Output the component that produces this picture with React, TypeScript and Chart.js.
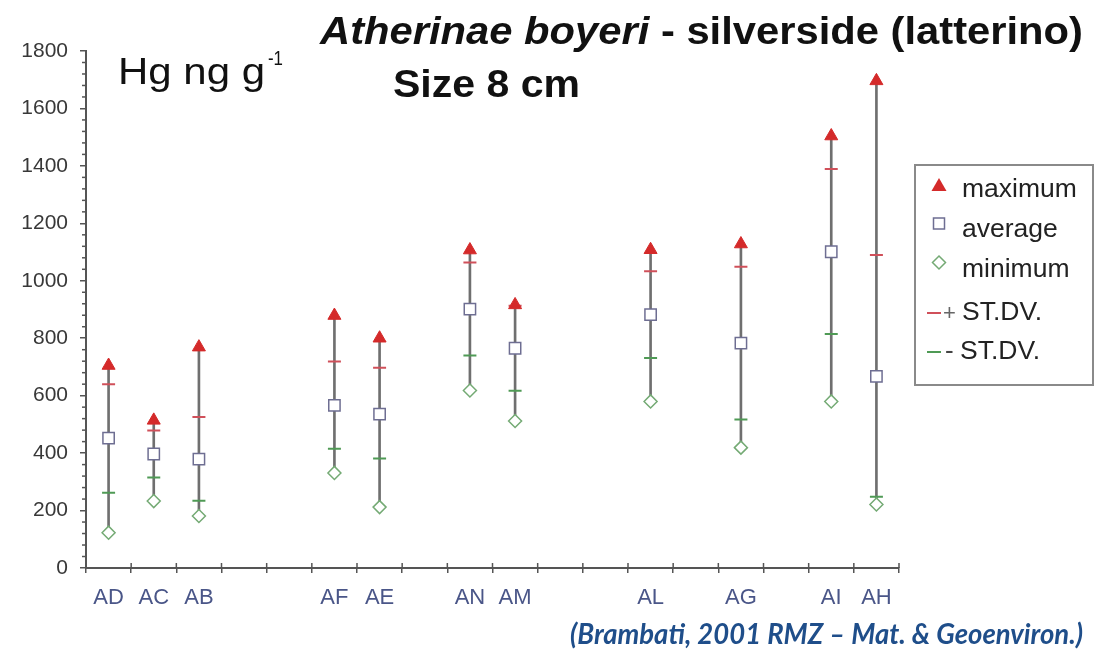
import React, { useEffect, useRef } from "react";
import { Chart, registerables } from "chart.js";

Chart.register(...registerables);

// ---- data ----
const categories = ["AD", "AC", "AB", "", "", "AF", "AE", "", "AN", "AM", "", "", "AL", "", "AG", "", "AI", "AH"];
const maximum = [705, 514, 769, null, null, 879, 800, null, 1107, 916, null, null, 1108, null, 1128, null, 1504, 1696];
const plusSD = [640, 479, 526, null, null, 719, 697, null, 1064, 913, null, null, 1033, null, 1049, null, 1389, 1090];
const average = [452, 397, 379, null, null, 566, 536, null, 901, 765, null, null, 882, null, 783, null, 1101, 667];
const minusSD = [262, 315, 234, null, null, 415, 381, null, 740, 617, null, null, 731, null, 517, null, 815, 248];
const minimum = [123, 233, 181, null, null, 331, 212, null, 618, 512, null, null, 580, null, 419, null, 580, 221];
const yTickValues = [0, 200, 400, 600, 800, 1000, 1200, 1400, 1600, 1800];
const yMinorStep = 40;

const titleItalic = "Atherinae boyeri";
const titleRest = " - silverside (latterino)";
const subtitle = "Size 8 cm";
const unitMain = "Hg ng g";
const unitSup = "-1";
const legendLabels = ["maximum", "average", "minimum", "ST.DV.", "ST.DV."];
const citation = "(Brambati, 2001 RMZ \u2013 Mat. & Geoenviron.)";

const FONT = '"Liberation Sans", Arial, Helvetica, sans-serif';
const RED = "#d42a2a";
const RED_DASH = "#d0505a";
const GREEN_DASH = "#4f9a55";
const GREEN_DIAMOND = "#74aa74";
const SQUARE_BORDER = "#6e6e92";
const RANGE = "#6f6f6f";
const AXIS = "#555555";

function fitText(
  ctx: CanvasRenderingContext2D,
  parts: { text: string; font: string }[],
  x: number,
  baseline: number,
  width: number,
  color: string
) {
  ctx.save();
  let total = 0;
  for (const p of parts) {
    ctx.font = p.font;
    total += ctx.measureText(p.text).width;
  }
  const s = width / total;
  ctx.translate(x, baseline);
  ctx.scale(s, 1);
  ctx.fillStyle = color;
  ctx.textBaseline = "alphabetic";
  ctx.textAlign = "left";
  let cx = 0;
  for (const p of parts) {
    ctx.font = p.font;
    ctx.fillText(p.text, cx, 0);
    cx += ctx.measureText(p.text).width;
  }
  ctx.restore();
}

function scaledText(ctx: CanvasRenderingContext2D, text: string, x: number, y: number, font: string, sx: number, color: string) {
  ctx.save();
  ctx.translate(x, y);
  ctx.scale(sx, 1);
  ctx.font = font;
  ctx.fillStyle = color;
  ctx.textBaseline = "middle";
  ctx.textAlign = "left";
  ctx.fillText(text, 0, 0);
  ctx.restore();
}

const decorPlugin = {
  id: "decor",
  afterDraw(chart: any) {
    const ctx: CanvasRenderingContext2D = chart.ctx;
    const xs = chart.scales.x;
    const ys = chart.scales.y;
    ctx.save();
    // y minor ticks
    ctx.strokeStyle = AXIS;
    ctx.lineWidth = 1.5;
    for (let v = 0; v <= 1800; v += yMinorStep) {
      if (v % 200 === 0) continue;
      const py = ys.getPixelForValue(v);
      ctx.beginPath();
      ctx.moveTo(ys.right - 4, py);
      ctx.lineTo(ys.right, py);
      ctx.stroke();
    }
    // x ticks above axis
    const n = categories.length;
    const step = (xs.right - xs.left) / n;
    for (let i = 0; i <= n; i++) {
      const px = xs.left + i * step;
      ctx.beginPath();
      ctx.moveTo(px, xs.top - 5);
      ctx.lineTo(px, xs.top);
      ctx.stroke();
    }
    ctx.restore();

    // titles
    fitText(
      ctx,
      [
        { text: titleItalic, font: `italic bold 39px ${FONT}` },
        { text: titleRest, font: `bold 39px ${FONT}` },
      ],
      320,
      44,
      763,
      "#111111"
    );
    fitText(ctx, [{ text: subtitle, font: `bold 39px ${FONT}` }], 393, 97, 187, "#111111");
    fitText(ctx, [{ text: unitMain, font: `37px ${FONT}` }], 118, 84, 147, "#111111");
    fitText(ctx, [{ text: unitSup, font: `20px ${FONT}` }], 268, 65, 15, "#111111");

    // legend box
    ctx.save();
    ctx.strokeStyle = "#8a8a8a";
    ctx.lineWidth = 2;
    ctx.strokeRect(915, 165, 178, 220);
    // triangle
    const tx = 939;
    ctx.fillStyle = RED;
    ctx.beginPath();
    ctx.moveTo(tx, 178);
    ctx.lineTo(tx + 7.5, 191);
    ctx.lineTo(tx - 7.5, 191);
    ctx.closePath();
    ctx.fill();
    // square
    ctx.strokeStyle = SQUARE_BORDER;
    ctx.lineWidth = 1.5;
    ctx.fillStyle = "#ffffff";
    ctx.fillRect(tx - 5.5, 218, 11, 11);
    ctx.strokeRect(tx - 5.5, 218, 11, 11);
    // diamond
    ctx.strokeStyle = GREEN_DIAMOND;
    ctx.beginPath();
    ctx.moveTo(tx, 256);
    ctx.lineTo(tx + 6.5, 262.5);
    ctx.lineTo(tx, 269);
    ctx.lineTo(tx - 6.5, 262.5);
    ctx.closePath();
    ctx.stroke();
    // dashes
    ctx.lineWidth = 2;
    ctx.strokeStyle = RED_DASH;
    ctx.beginPath();
    ctx.moveTo(927, 313);
    ctx.lineTo(941, 313);
    ctx.stroke();
    ctx.strokeStyle = GREEN_DASH;
    ctx.beginPath();
    ctx.moveTo(927, 352);
    ctx.lineTo(941, 352);
    ctx.stroke();
    ctx.restore();

    const lf = `26px ${FONT}`;
    scaledText(ctx, legendLabels[0], 962, 190, lf, 1.02, "#222222");
    scaledText(ctx, legendLabels[1], 962, 230, lf, 1.02, "#222222");
    scaledText(ctx, legendLabels[2], 962, 270, lf, 1.02, "#222222");
    scaledText(ctx, "+", 943, 314, `22px ${FONT}`, 1.0, "#666666");
    scaledText(ctx, legendLabels[3], 962, 313, lf, 1.02, "#222222");
    scaledText(ctx, "-", 945, 352, lf, 1.0, "#444444");
    scaledText(ctx, legendLabels[4], 960, 352, lf, 1.02, "#222222");

    // citation
    fitText(
      ctx,
      [{ text: citation, font: `italic bold 29px Lato, "Open Sans", sans-serif` }],
      570,
      644,
      513,
      "#1f4e8a"
    );
  },
};

export default function App() {
  const ref = useRef<HTMLCanvasElement | null>(null);

  useEffect(() => {
    if (!ref.current) return;
    Chart.defaults.font.family = FONT;
    const ranges = categories.map((_, i) =>
      minimum[i] == null || maximum[i] == null ? null : [minimum[i] as number, maximum[i] as number]
    );
    const chart = new Chart(ref.current, {
      type: "bar",
      data: {
        labels: categories,
        datasets: [
          {
            type: "bar",
            label: "range",
            data: ranges as any,
            backgroundColor: RANGE,
            borderWidth: 0,
            barThickness: 2,
            grouped: false,
            order: 10,
          } as any,
          {
            type: "line",
            label: "+ ST.DV.",
            data: plusSD as any,
            showLine: false,
            pointStyle: "line",
            pointRadius: 6.5,
            pointBorderColor: RED_DASH,
            borderColor: RED_DASH,
            pointBorderWidth: 2,
            order: 5,
          } as any,
          {
            type: "line",
            label: "- ST.DV.",
            data: minusSD as any,
            showLine: false,
            pointStyle: "line",
            pointRadius: 6.5,
            pointBorderColor: GREEN_DASH,
            borderColor: GREEN_DASH,
            pointBorderWidth: 2,
            order: 5,
          } as any,
          {
            type: "line",
            label: "maximum",
            data: maximum as any,
            showLine: false,
            pointStyle: "triangle",
            pointRadius: 7.5,
            pointBackgroundColor: RED,
            pointBorderColor: RED,
            pointBorderWidth: 1,
            order: 1,
          } as any,
          {
            type: "line",
            label: "average",
            data: average as any,
            showLine: false,
            pointStyle: "rect",
            pointRadius: 8,
            pointBackgroundColor: "#ffffff",
            pointBorderColor: SQUARE_BORDER,
            pointBorderWidth: 1.5,
            order: 1,
          } as any,
          {
            type: "line",
            label: "minimum",
            data: minimum as any,
            showLine: false,
            pointStyle: "rectRot",
            pointRadius: 6.5,
            pointBackgroundColor: "#ffffff",
            pointBorderColor: GREEN_DIAMOND,
            pointBorderWidth: 1.5,
            order: 1,
          } as any,
        ],
      },
      options: {
        animation: false,
        responsive: false,
        devicePixelRatio: 1,
        layout: { padding: { left: 0, top: 51, right: 197, bottom: 0 } },
        plugins: {
          legend: { display: false },
          tooltip: { enabled: false },
          title: { display: false },
        },
        scales: {
          x: {
            type: "category",
            offset: true,
            grid: {
              offset: true,
              drawOnChartArea: false,
              drawTicks: true,
              tickLength: 5,
              color: AXIS,
              lineWidth: 1.5,
            },
            border: { color: AXIS, width: 2 },
            ticks: {
              color: "#4a5688",
              font: { family: FONT, size: 22 },
              padding: 12,
              maxRotation: 0,
              minRotation: 0,
              autoSkip: false,
            },
            afterFit: (s: any) => {
              s.height = 89;
            },
          },
          y: {
            min: 0,
            max: 1800,
            afterBuildTicks: (s: any) => {
              s.ticks = yTickValues.map((v) => ({ value: v }));
            },
            grid: {
              drawOnChartArea: false,
              tickLength: 6,
              color: AXIS,
              lineWidth: 1.5,
            },
            border: { color: AXIS, width: 2 },
            ticks: {
              color: "#383838",
              font: { family: FONT, size: 21 },
              padding: 12,
              callback: (v: any) => String(v),
            },
            afterFit: (s: any) => {
              s.width = 86;
            },
          },
        },
      },
      plugins: [decorPlugin],
    } as any);
    return () => chart.destroy();
  }, []);

  return (
    <div style={{ position: "fixed", left: 0, top: 0, width: 1096, height: 657, background: "#ffffff" }}>
      <canvas ref={ref} width={1096} height={657} style={{ display: "block", width: 1096, height: 657 }} />
    </div>
  );
}
